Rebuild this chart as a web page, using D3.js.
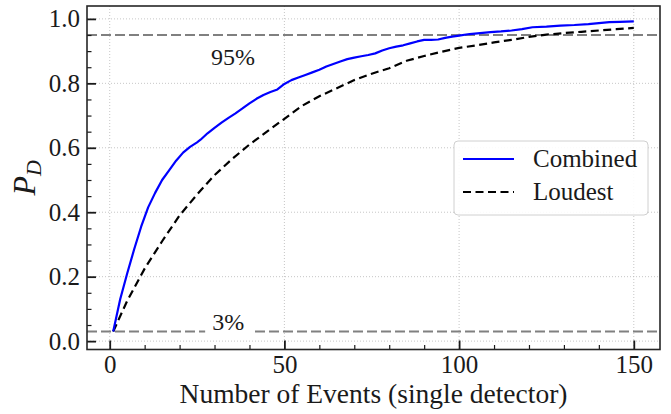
<!DOCTYPE html>
<html><head><meta charset="utf-8"><script src="https://cdn.jsdelivr.net/npm/d3@7"></script></head>
<body style="margin:0">
<svg id="chart" width="671" height="414" style="display:block"></svg>
<script>
// ---- data ----
const combinedN = [1, 3, 5, 7, 9, 11, 13, 15, 17, 19, 21, 23, 25, 26, 28, 30, 32, 34, 36, 38, 40, 42, 44, 46, 48, 50, 52, 54, 56, 58, 60, 62, 64, 66, 68, 70, 72, 74, 76, 78, 80, 82, 84, 86, 88, 90, 92, 94, 96, 98, 100, 103, 106, 109, 112, 115, 118, 121, 125, 129, 133, 137, 140, 143, 146, 150];
const combinedP = [0.030, 0.130, 0.210, 0.285, 0.355, 0.415, 0.460, 0.500, 0.530, 0.560, 0.585, 0.603, 0.617, 0.625, 0.645, 0.662, 0.678, 0.693, 0.707, 0.722, 0.738, 0.752, 0.764, 0.773, 0.781, 0.798, 0.810, 0.818, 0.826, 0.834, 0.842, 0.852, 0.860, 0.868, 0.875, 0.880, 0.884, 0.888, 0.893, 0.902, 0.909, 0.914, 0.918, 0.924, 0.930, 0.935, 0.935, 0.936, 0.941, 0.945, 0.948, 0.953, 0.956, 0.959, 0.961, 0.964, 0.968, 0.974, 0.976, 0.979, 0.981, 0.984, 0.987, 0.990, 0.991, 0.992];
const loudestN = [1, 5, 10, 15, 20, 25, 30, 35, 40, 45, 50, 55, 60, 65, 70, 75, 80, 85, 90, 95, 100, 105, 110, 115, 120, 125, 130, 135, 140, 145, 150];
const loudestP = [0.030, 0.125, 0.225, 0.310, 0.390, 0.455, 0.515, 0.565, 0.610, 0.650, 0.690, 0.730, 0.760, 0.785, 0.810, 0.830, 0.847, 0.870, 0.885, 0.898, 0.910, 0.918, 0.927, 0.935, 0.944, 0.951, 0.956, 0.960, 0.964, 0.968, 0.972];
const refLevels = [0.95, 0.03];
const refLabels = ["95%", "3%"];
const xTicks = [0, 50, 100, 150];
const xMinorTicks = [10, 20, 30, 40, 60, 70, 80, 90, 110, 120, 130, 140];
const yTicks = [0.0, 0.2, 0.4, 0.6, 0.8, 1.0];
const yMinorTicks = [0.05, 0.1, 0.15, 0.25, 0.3, 0.35, 0.45, 0.5, 0.55, 0.65, 0.7, 0.75, 0.85, 0.9, 0.95];
const seriesNames = ["Combined", "Loudest"];
const xLabel = "Number of Events (single detector)";

const FONT = "'Liberation Serif'";

// ---- layout ----
const svg = d3.select("#chart");
const L = 87, R = 660, T = 6, B = 349.5;
const x = d3.scaleLinear().domain([-6.5, 157.5]).range([L, R]);
const y = d3.scaleLinear().domain([-0.026, 1.04]).range([B, T]);

// grid
const grid = svg.append("g");
grid.selectAll("line.gx").data(xTicks).join("line")
  .attr("x1", d => x(d)).attr("x2", d => x(d)).attr("y1", T).attr("y2", B)
  .attr("stroke", "#b8b8b8").attr("stroke-width", 0.8).attr("stroke-dasharray", "1,2");
grid.selectAll("line.gy").data(yTicks).join("line")
  .attr("y1", d => y(d)).attr("y2", d => y(d)).attr("x1", L).attr("x2", R)
  .attr("stroke", "#b8b8b8").attr("stroke-width", 0.8).attr("stroke-dasharray", "1,2");

// reference lines
svg.selectAll("line.ref").data(refLevels).join("line")
  .attr("x1", L).attr("x2", R).attr("y1", d => y(d)).attr("y2", d => y(d))
  .attr("stroke", "#808080").attr("stroke-width", 2).attr("stroke-dasharray", "10,4");

// reference labels
const refPos = [{n: 35.3, v: 0.857}, {n: 33.9, v: 0.036}];
refLabels.forEach((lab, i) => {
  const g = svg.append("g");
  const t = g.append("text").attr("x", x(refPos[i].n)).attr("y", y(refPos[i].v))
    .attr("text-anchor", "middle").attr("font-size", 24).attr("fill", "#1a1a1a")
    .style("font-family", FONT).text(lab);
  if (i === 1) {
    const bb = t.node().getBBox();
    g.insert("rect", "text").attr("x", bb.x - 7).attr("y", bb.y - 2)
      .attr("width", bb.width + 14).attr("height", bb.height + 4).attr("fill", "#fff");
  }
});

// curves
const lineGen = d3.line().x(d => x(d[0])).y(d => y(d[1]));
svg.append("path").datum(loudestN.map((n, i) => [n, loudestP[i]]))
  .attr("d", lineGen).attr("fill", "none").attr("stroke", "#000")
  .attr("stroke-width", 2.2).attr("stroke-dasharray", "8,4.5");
svg.append("path").datum(combinedN.map((n, i) => [n, combinedP[i]]))
  .attr("d", lineGen).attr("fill", "none").attr("stroke", "#0000ff")
  .attr("stroke-width", 2.2).attr("stroke-linejoin", "round");

// axes (inward ticks)
const xAxis = svg.append("g").attr("transform", `translate(0,${B})`)
  .call(d3.axisBottom(x).tickValues(xTicks).tickSize(-9).tickPadding(6).tickFormat(d3.format("d")));
const xMinor = svg.append("g").attr("transform", `translate(0,${B})`)
  .call(d3.axisBottom(x).tickValues(xMinorTicks).tickSize(-4.5).tickFormat(""));
const yAxis = svg.append("g").attr("transform", `translate(${L},0)`)
  .call(d3.axisLeft(y).tickValues(yTicks).tickSize(-9).tickPadding(7).tickFormat(d3.format(".1f")));
const yMinor = svg.append("g").attr("transform", `translate(${L},0)`)
  .call(d3.axisLeft(y).tickValues(yMinorTicks).tickSize(-4.5).tickFormat(""));
[xAxis, xMinor, yAxis, yMinor].forEach(a => { a.select(".domain").remove(); });
[xAxis, yAxis].forEach(a => {
  a.attr("font-family", "Liberation Serif").attr("font-size", 25);
  a.selectAll(".tick line").attr("stroke", "#1a1a1a").attr("stroke-width", 1.8);
  a.selectAll(".tick text").attr("fill", "#1a1a1a").style("font-family", FONT);
});
[xMinor, yMinor].forEach(a => a.selectAll(".tick line").attr("stroke", "#1a1a1a").attr("stroke-width", 1.2));

// frame
svg.append("rect").attr("x", L).attr("y", T).attr("width", R - L).attr("height", B - T)
  .attr("fill", "none").attr("stroke", "#262626").attr("stroke-width", 1.6);

// axis labels
svg.append("text").attr("x", (L + R) / 2).attr("y", 403).attr("text-anchor", "middle")
  .attr("font-size", 27.5).attr("fill", "#1a1a1a").style("font-family", FONT).text(xLabel);
const yl = svg.append("text").attr("transform", `translate(35,${(T + B) / 2}) rotate(-90)`)
  .attr("text-anchor", "middle").attr("font-size", 32).attr("font-style", "italic")
  .attr("fill", "#1a1a1a").style("font-family", FONT);
yl.append("tspan").text("P");
yl.append("tspan").attr("font-size", 22).attr("dy", 6).text("D");

// legend
const lg = svg.append("g");
lg.append("rect").attr("x", 454).attr("y", 141).attr("width", 194).attr("height", 74)
  .attr("rx", 4).attr("fill", "#fff").attr("fill-opacity", 0.9).attr("stroke", "#d0d0d0").attr("stroke-width", 1);
const legY = [159, 192];
lg.selectAll("line.leg").data(seriesNames).join("line")
  .attr("x1", 463).attr("x2", 514).attr("y1", (d, i) => legY[i]).attr("y2", (d, i) => legY[i])
  .attr("stroke", (d, i) => i === 0 ? "#0000ff" : "#000").attr("stroke-width", 2.2)
  .attr("stroke-dasharray", (d, i) => i === 0 ? null : "8,4.5");
lg.selectAll("text.leg").data(seriesNames).join("text")
  .attr("x", 533).attr("y", (d, i) => legY[i] + 8).attr("font-size", 25).attr("fill", "#1a1a1a")
  .style("font-family", FONT).text(d => d);
</script>
</body>
</html>
